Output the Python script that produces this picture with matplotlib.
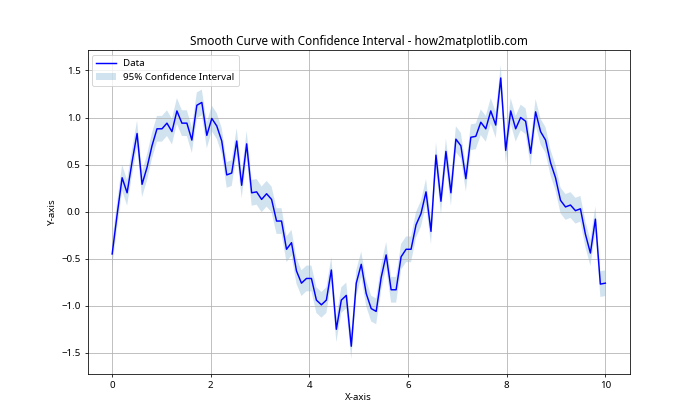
import numpy as np
import matplotlib
matplotlib.use("Agg")
import matplotlib.pyplot as plt

plt.rcParams['font.family'] = ['Noto Sans', 'DejaVu Sans']

x = np.linspace(0, 10, 100)
y = np.array([
    -0.45, -0.03, 0.36, 0.20, 0.53, 0.83, 0.29, 0.47, 0.70, 0.88,
    0.88, 0.94, 0.85, 1.07, 0.94, 0.94, 0.76, 1.13, 1.16, 0.81,
    0.99, 0.91, 0.75, 0.39, 0.41, 0.75, 0.28, 0.72, 0.20, 0.21,
    0.13, 0.19, 0.13, -0.10, -0.10, -0.40, -0.33, -0.63, -0.76, -0.71,
    -0.71, -0.94, -0.99, -0.94, -0.62, -1.25, -0.94, -0.89, -1.43, -0.76,
    -0.56, -0.87, -1.03, -1.06, -0.70, -0.46, -0.83, -0.83, -0.48, -0.40,
    -0.40, -0.14, -0.02, 0.21, -0.21, 0.60, 0.11, 0.64, 0.20, 0.77,
    0.70, 0.35, 0.79, 0.80, 0.95, 0.88, 1.07, 0.92, 1.42, 0.65,
    1.07, 0.88, 1.00, 0.96, 0.62, 1.06, 0.85, 0.76, 0.52, 0.36,
    0.12, 0.05, 0.07, 0.01, 0.03, -0.24, -0.44, -0.08, -0.77, -0.76,
])

ci = 1.96 * np.std(y) / np.sqrt(len(y))

fig, ax = plt.subplots(figsize=(10, 6), dpi=70)
ax.plot(x, y, 'b-', label='Data')
ax.fill_between(x, y - ci, y + ci, alpha=0.2, label='95% Confidence Interval')
ax.set_title('Smooth Curve with Confidence Interval - how2matplotlib.com')
ax.set_xlabel('X-axis')
ax.set_ylabel('Y-axis')
ax.legend(loc='upper left')
ax.grid(True)
fig.savefig('out.png', dpi=70)
